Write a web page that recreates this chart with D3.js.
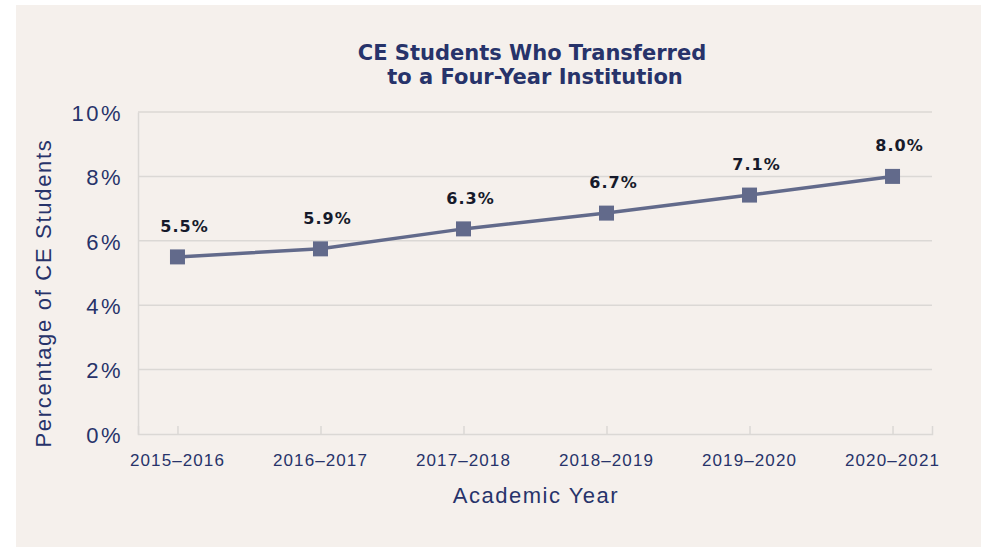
<!DOCTYPE html>
<html>
<head>
<meta charset="utf-8">
<script src="https://cdn.jsdelivr.net/npm/d3@7"></script>
<style>
  body { margin: 0; background: #ffffff; }
  svg text { font-family: "Liberation Sans", Arial, sans-serif; }
</style>
</head>
<body>
<div id="chart"></div>
<script>
var years = ["2015–2016", "2016–2017", "2017–2018", "2018–2019", "2019–2020", "2020–2021"];
var rates = [5.5, 5.75, 6.37, 6.86, 7.42, 8.0];
var rateLabels = ["5.5%", "5.9%", "6.3%", "6.7%", "7.1%", "8.0%"];
var yTicks = [0, 2, 4, 6, 8, 10];

var full_width = 981,
    full_height = 547;

var margin = { top: 112, right: 49, bottom: 113, left: 138 };
var width = full_width - margin.left - margin.right;
var height = full_height - margin.top - margin.bottom;

var navy = "#27336a",
    lineColor = "#626a8b",
    gridColor = "#dbd8d5";

var svg = d3.select("#chart")
    .append("svg")
    .attr("width", full_width)
    .attr("height", full_height);

// panel background
svg.append("rect")
    .attr("x", 16)
    .attr("y", 5)
    .attr("width", full_width - 16)
    .attr("height", full_height - 5)
    .attr("fill", "#f5f0ec");

var x = d3.scalePoint()
    .domain(years)
    .range([0, width])
    .padding(0.276);

var y = d3.scaleLinear()
    .domain([0, 10])
    .range([height, 0]);

var g = svg.append("g")
    .attr("transform", "translate(" + margin.left + "," + margin.top + ")");

// grid lines
g.selectAll(".grid")
    .data(yTicks.slice(1))
    .enter()
    .append("line")
    .attr("class", "grid")
    .attr("x1", 0)
    .attr("x2", width)
    .attr("y1", function(d) { return y(d); })
    .attr("y2", function(d) { return y(d); })
    .attr("stroke", gridColor)
    .attr("stroke-width", 1.5);

// Y Axis
var yAxis = g.append("g")
    .call(d3.axisLeft(y).tickValues(yTicks).tickSize(0).tickPadding(15)
        .tickFormat(function(d) { return d + "%"; }));
yAxis.select(".domain").attr("stroke", gridColor).attr("stroke-width", 1.5);
yAxis.selectAll("text")
    .attr("fill", navy)
    .style("font-size", "22px")
    .style("letter-spacing", "2.5px")
    .attr("dy", "0.38em");

// X Axis
var xAxis = g.append("g")
    .attr("transform", "translate(0," + height + ")")
    .call(d3.axisTop(x).tickSize(8).tickFormat(""));
xAxis.select(".domain").attr("stroke", gridColor).attr("stroke-width", 1.5);
xAxis.selectAll(".tick line").attr("stroke", gridColor).attr("stroke-width", 1.5);

g.selectAll(".xlabel")
    .data(years)
    .enter()
    .append("text")
    .attr("class", "xlabel")
    .attr("x", function(d) { return x(d); })
    .attr("y", height + 32)
    .attr("text-anchor", "middle")
    .attr("fill", navy)
    .style("font-size", "17px")
    .style("letter-spacing", "1.1px")
    .text(function(d) { return d; });

// line
var line = d3.line()
    .x(function(d, i) { return x(years[i]); })
    .y(function(d) { return y(d); });

g.append("path")
    .datum(rates)
    .attr("d", line)
    .attr("fill", "none")
    .attr("stroke", lineColor)
    .attr("stroke-width", 3.5);

// markers
g.selectAll(".marker")
    .data(rates)
    .enter()
    .append("rect")
    .attr("class", "marker")
    .attr("x", function(d, i) { return x(years[i]) - 7.5; })
    .attr("y", function(d) { return y(d) - 7.5; })
    .attr("width", 15)
    .attr("height", 15)
    .attr("fill", lineColor);

// value labels
g.selectAll(".vlabel")
    .data(rates)
    .enter()
    .append("text")
    .attr("class", "vlabel")
    .attr("x", function(d, i) { return x(years[i]) + 7; })
    .attr("y", function(d) { return y(d) - 25; })
    .attr("text-anchor", "middle")
    .attr("fill", "#161a2b")
    .style("font-family", "'DejaVu Sans', sans-serif")
    .style("font-size", "16px")
    .style("font-weight", "bold")
    .style("letter-spacing", "1px")
    .text(function(d, i) { return rateLabels[i]; });

// Title
var title = svg.append("text")
    .attr("text-anchor", "middle")
    .attr("fill", navy)
    .style("font-family", "'DejaVu Sans', sans-serif")
    .style("font-size", "21px")
    .style("font-weight", "bold");
title.append("tspan").attr("x", 532).attr("y", 60).text("CE Students Who Transferred");
title.append("tspan").attr("x", 535).attr("y", 84).text("to a Four-Year Institution");

// X Axis label
svg.append("text")
    .attr("x", 536)
    .attr("y", 503)
    .attr("text-anchor", "middle")
    .attr("fill", navy)
    .style("font-size", "22px")
    .style("letter-spacing", "1.5px")
    .text("Academic Year");

// Y Axis label
svg.append("text")
    .attr("transform", "translate(51," + 293 + ") rotate(-90)")
    .attr("text-anchor", "middle")
    .attr("fill", navy)
    .style("font-size", "22px")
    .style("letter-spacing", "1.7px")
    .text("Percentage of CE Students");
</script>
</body>
</html>
